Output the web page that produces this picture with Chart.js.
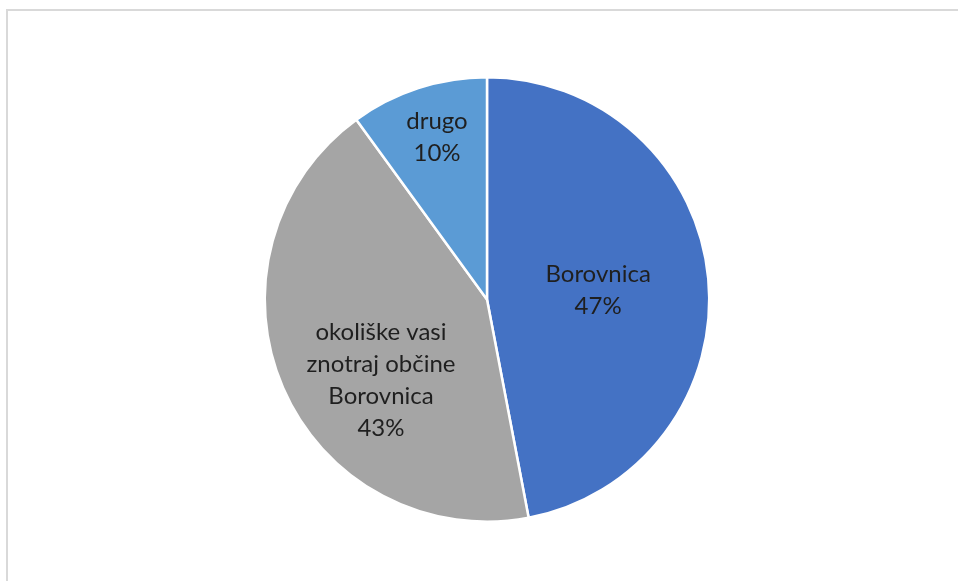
<!DOCTYPE html>
<html>
<head>
<meta charset="utf-8">
<script src="https://cdn.jsdelivr.net/npm/chart.js@4.4.0/dist/chart.umd.min.js"></script>
<style>
  html, body { margin: 0; padding: 0; background: #fff; overflow: hidden; }
  .frame {
    position: absolute; left: 6px; top: 9px; width: 980px; height: 600px;
    border-top: 2px solid #d9d9d9; border-left: 2px solid #d9d9d9;
  }
  .wrap { position: absolute; left: 0; top: 0; width: 958px; height: 581px; }
</style>
</head>
<body>
<div class="frame"></div>
<div class="wrap"><canvas id="pieChart" width="958" height="581"></canvas></div>
<script>
// slices, clockwise from 12 o'clock
const categories = [
  ['Borovnica'],
  ['okoliške vasi', 'znotraj občine', 'Borovnica'],
  ['drugo']
];
const shares = [47, 43, 10];
const colors = ['#4472c4', '#a5a5a5', '#5b9bd5'];

// label centre relative to pie centre, in units of the radius (Excel "best fit")
const LABEL_OFFSET = [[0.50, -0.04], [-0.477, 0.365], [-0.225, -0.73]];

const sliceLabels = {
  id: 'sliceLabels',
  afterDatasetsDraw(chart) {
    const ctx = chart.ctx;
    const meta = chart.getDatasetMeta(0);
    ctx.save();
    ctx.font = '24px Lato, "Open Sans", sans-serif';
    ctx.fillStyle = '#1f1f1f';
    ctx.textAlign = 'center';
    ctx.textBaseline = 'middle';
    const lineH = 32;
    meta.data.forEach((arc, i) => {
      const p = arc.getProps(['x', 'y', 'outerRadius'], true);
      const cx = p.x + LABEL_OFFSET[i][0] * p.outerRadius;
      const cy = p.y + LABEL_OFFSET[i][1] * p.outerRadius;
      const lines = categories[i].concat([shares[i] + '%']);
      const top = cy - (lines.length - 1) * lineH / 2;
      lines.forEach((t, k) => ctx.fillText(t, cx, top + k * lineH));
    });
    ctx.restore();
  }
};

new Chart(document.getElementById('pieChart'), {
  type: 'pie',
  data: {
    labels: categories.map(c => c.join(' ')),
    datasets: [{
      data: shares,
      backgroundColor: colors,
      borderColor: '#ffffff',
      borderWidth: 2.5
    }]
  },
  options: {
    responsive: false,
    animation: false,
    layout: { padding: { top: 76, bottom: 58, left: 16, right: 0 } },
    plugins: {
      legend: { display: false },
      tooltip: { enabled: false }
    }
  },
  plugins: [sliceLabels]
});
</script>
</body>
</html>
